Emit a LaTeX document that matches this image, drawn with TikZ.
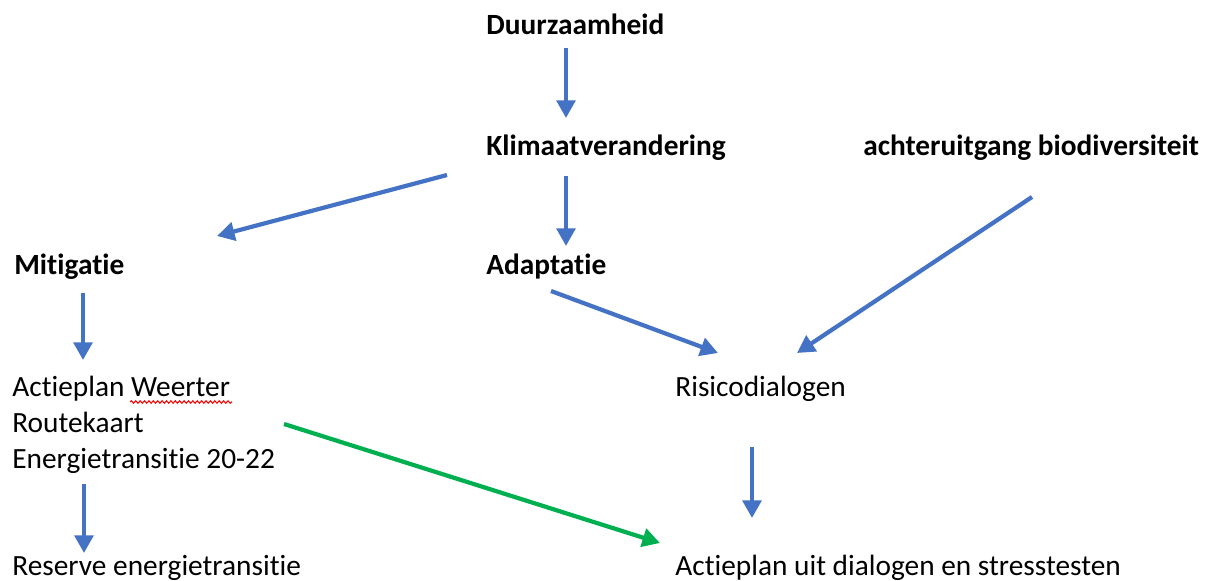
\documentclass[tikz,border=0pt]{standalone}
\usepackage{fontspec}
\setmainfont{Carlito}[Ligatures=NoCommon]
\usepackage{xcolor}
\usepackage{tikz}
\usetikzlibrary{arrows.meta, calc, decorations.pathmorphing}

\definecolor{arrowblue}{HTML}{4472C4}
\definecolor{arrowgreen}{HTML}{00B050}

\begin{document}
\begin{tikzpicture}[x=0.02cm, y=-0.02cm,
    label/.style={anchor=base west, inner sep=0pt, font=\fontsize{16.7}{20}\selectfont},
    head/.style={label, font=\fontsize{16.7}{20}\selectfont\bfseries},
    flow/.style={line width=2.4pt, arrowblue, -{Triangle[length=10pt,width=10.5pt]}},
    greenflow/.style={flow, arrowgreen}]
\useasboundingbox (0,0) rectangle (1211,581);

\node[head] (duur) at (486,35) {Duurzaamheid};
\node[head] (klim) at (486,155) {Klimaatverandering};
\node[head] (bio) at (863,155) {achteruitgang biodiversiteit};
\node[head] (miti) at (14,275) {Mitigatie};
\node[head] (adap) at (486,274) {Adaptatie};

\node[label] (actA) at (12,396) {Actieplan Weerter};
\node[label] (actB) at (12,432) {Routekaart};
\node[label] (actC) at (12,468) {Energietransitie 20-22};
\node[label] (risico) at (675,396) {Risicodialogen};
\node[label] (reserve) at (12,575) {Reserve energietransitie};
\node[label] (actUit) at (675,575) {Actieplan uit dialogen en stresstesten};

\draw[red, line width=0.6pt, decorate, decoration={snake, segment length=2.5pt, amplitude=0.7pt}]
    ($(actA.base west)+(118,6)$) -- ($(actA.base west)+(220,6)$);

\draw[flow] ($(duur.base west)+(80,13)$) -- ($(klim.base west)+(80,-37)$);
\draw[flow] ($(klim.base west)+(80,21)$) -- ($(adap.base west)+(80,-28)$);
\draw[flow] ($(klim.base west)+(-39,20)$) -- ($(miti.base west)+(203,-39)$);
\draw[flow] ($(miti.base west)+(69,18)$) -- ($(actA.base west)+(71,-36)$);
\draw[flow] ($(actC.base west)+(72,16)$) -- ($(reserve.base west)+(72,-22)$);
\draw[flow] ($(adap.base west)+(65,17)$) -- ($(risico.base west)+(43,-43)$);
\draw[flow] ($(bio.base west)+(169,42)$) -- ($(risico.base west)+(122,-43)$);
\draw[flow] ($(risico.base west)+(77,51)$) -- ($(actUit.base west)+(77,-57)$);
\draw[greenflow] ($(actB.base west)+(272,-8)$) -- ($(actUit.base west)+(-15,-32)$);

\end{tikzpicture}
\end{document}
